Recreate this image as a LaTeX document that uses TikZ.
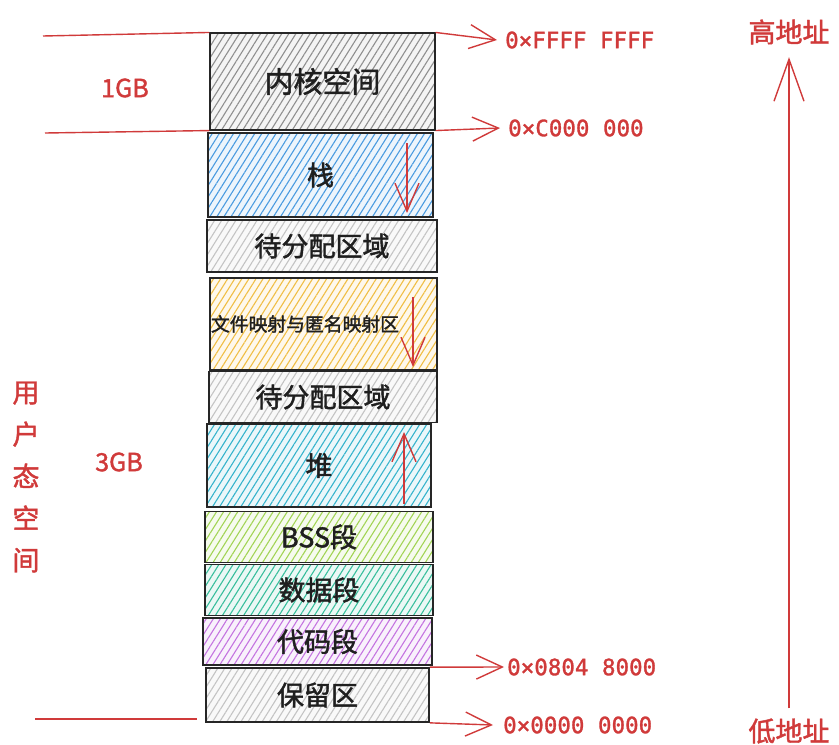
\documentclass[tikz,border=0pt]{standalone}
\usepackage{fontspec}
\newfontfamily\cjk{Noto Sans CJK SC}[FakeBold=1.6]
\newfontfamily\mono{DejaVu Sans Mono}[FakeBold=1.4]
\usetikzlibrary{patterns.meta,arrows.meta}
\definecolor{rd}{HTML}{D03A3A}
\definecolor{cgray}{HTML}{8F8F8F}
\definecolor{cblue}{HTML}{4A9BE0}
\definecolor{clight}{HTML}{C4C4C4}
\definecolor{cyellow}{HTML}{F0BE45}
\definecolor{cheap}{HTML}{35B3CC}
\definecolor{cbss}{HTML}{A2D455}
\definecolor{cdata}{HTML}{38BE9C}
\definecolor{ccode}{HTML}{C474E0}
\begin{document}
\begin{tikzpicture}[x=1pt,y=-1pt,
  box/.style={draw=black!85, line width=1.7pt, inner sep=0pt, text=black!88,
    font=\cjk\fontsize{27}{32}\selectfont},
  hatch/.style={preaction={fill=#1!10}, pattern={Lines[angle=58,distance=6pt,line width=1.1pt]}, pattern color=#1},
  redline/.style={draw=rd, line width=1.4pt},
  redarrow/.style={draw=rd, line width=1.4pt, -{Straight Barb[length=26pt,width=24pt,line width=1.4pt]}},
  inarrow/.style={draw=rd, line width=1.4pt, -{Straight Barb[length=28pt,width=24pt,line width=1.4pt]}},
  bigarrow/.style={draw=rd, line width=1.4pt, -{Straight Barb[length=42pt,width=30pt,line width=1.4pt]}},
  addr/.style={text=rd, font=\mono\fontsize{22.5}{26}\selectfont, anchor=west, inner sep=0pt},
  redtext/.style={text=rd, font=\cjk\fontsize{27}{32}\selectfont, inner sep=0pt},
  sizetext/.style={text=rd, font=\cjk\fontsize{25}{30}\selectfont, inner sep=0pt}
]
\useasboundingbox (0,0) rectangle (839,745);

% memory boxes
\node[box, hatch=cgray, minimum width=225pt, minimum height=97pt, font=\cjk\fontsize{29}{34}\selectfont] (kernel) at (322.5,81.5) {内核空间};
\node[box, hatch=cblue, minimum width=225pt, minimum height=84pt] (stack) at (320.5,175) {栈};
\node[box, hatch=clight, minimum width=230pt, minimum height=52pt] (free1) at (322,246) {待分配区域};
\node[box, hatch=cyellow, minimum width=227pt, minimum height=92pt, font=\cjk\fontsize{18.8}{22}\selectfont] (mmap) at (323.5,324) {文件映射与匿名映射区\kern37pt};
\node[box, hatch=clight, minimum width=228pt, minimum height=51pt] (free2) at (323,397) {待分配区域};
\node[box, hatch=cheap, minimum width=224pt, minimum height=83pt] (heap) at (319,465.5) {堆};
\node[box, hatch=cbss, minimum width=228pt, minimum height=51pt] (bss) at (319,537) {BSS段};
\node[box, hatch=cdata, minimum width=228pt, minimum height=51pt] (data) at (319,590) {数据段};
\node[box, hatch=ccode, minimum width=229pt, minimum height=47pt] (code) at (317.5,641.5) {代码段};
\node[box, hatch=clight, minimum width=223pt, minimum height=54pt] (reserved) at (317.5,695) {保留区};

% growth arrows inside boxes
\coordinate (sA) at (407,143);
\coordinate (sB) at (407,213);
\draw[inarrow] (sA) -- (sB);
\coordinate (mA) at (413,297);
\coordinate (mB) at (413,367);
\draw[inarrow] (mA) -- (mB);
\coordinate (hA) at (404,504);
\coordinate (hB) at (404,432);
\draw[inarrow] (hA) -- (hB);

% left boundary lines
\coordinate (lt) at (43,36);
\coordinate (lm) at (45,133);
\coordinate (lb) at (35,719);
\coordinate (lbe) at (197,719);
\draw[redline] (lt) -- (kernel.north west);
\draw[redline] (lm) -- (kernel.south west);
\draw[redline] (lb) -- (lbe);

% size labels
\node[sizetext] (gb1) at (125,88) {1GB};
\node[sizetext] (gb3) at (119,462) {3GB};
\node[redtext, align=center, font=\cjk\fontsize{27}{42}\selectfont] (user) at (26,477) {用\\户\\态\\空\\间};

% addresses
\node[addr] (aF) at (505,40) {0×FFFF FFFF};
\node[addr] (aC) at (508,128) {0×C000 000};
\node[addr] (a8) at (507,667) {0×0804 8000};
\node[addr] (a0) at (503,725) {0×0000 0000};
\draw[redarrow] (kernel.north east) -- ([xshift=-8pt]aF.west);
\draw[redarrow] (kernel.south east) -- ([xshift=-8pt]aC.west);
\draw[redarrow] (reserved.north east) -- ([xshift=-3pt]a8.west);
\draw[redarrow] (reserved.south east) -- ([xshift=-10pt]a0.west);

% address direction
\node[redtext] (high) at (789,32) {高地址};
\node[redtext] (low) at (789,731) {低地址};
\draw[bigarrow] ([yshift=10pt]low.north) -- ([yshift=-12.5pt]high.south);
\end{tikzpicture}
\end{document}
